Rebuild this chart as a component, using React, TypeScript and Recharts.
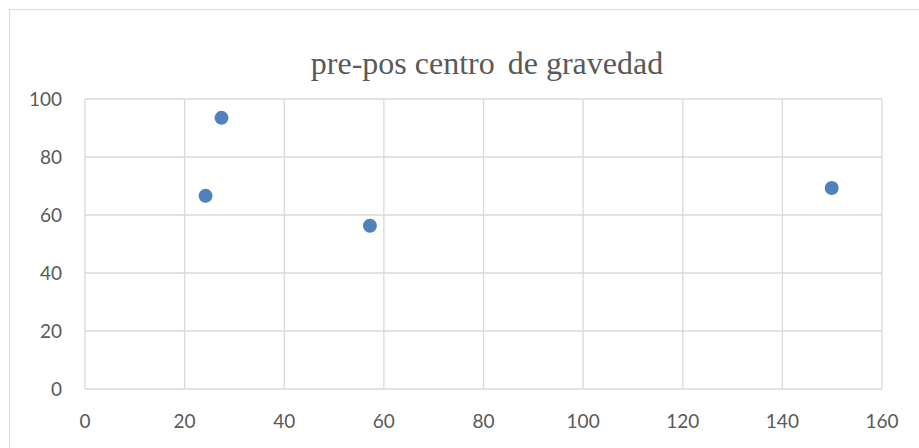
import React from "react";
import { ScatterChart, Scatter, XAxis, YAxis, CartesianGrid } from "recharts";

const TITLE_START = "pre-pos centro";
const TITLE_END = "de gravedad";

const xValues = [27.4, 24.2, 57.2, 149.9];
const yValues = [93.5, 66.6, 56.3, 69.3];

const xTicks = [0, 20, 40, 60, 80, 100, 120, 140, 160];
const yTicks = [0, 20, 40, 60, 80, 100];

const points = xValues.map((x, i) => ({ x, y: yValues[i] }));

const tickStyle = { fontSize: 19, fill: "#595959", fontFamily: "Lato, 'Noto Sans', sans-serif" };

const Dot = (props: any) => <circle cx={props.cx} cy={props.cy} r={7} fill="#4f81bd" />;

export default function App() {
  return (
    <div
      style={{
        position: "fixed",
        left: 0,
        top: 0,
        width: 919,
        height: 448,
        background: "#fff",
        overflow: "hidden",
      }}
    >
      {/* chart frame, runs off the right and bottom edges */}
      <div
        style={{
          position: "absolute",
          left: 9,
          top: 9,
          width: 940,
          height: 470,
          border: "1px solid #d9d9d9",
        }}
      />
      <svg width={919} height={448} style={{ position: "absolute", left: 0, top: 0 }}>
        <text
          x={487}
          y={74}
          textAnchor="middle"
          fontFamily="'Liberation Serif', 'Times New Roman', serif"
          fontSize={32}
          fill="#595959"
        >
          {TITLE_START + " "}
          <tspan dx={5}>{TITLE_END}</tspan>
        </text>
      </svg>
      <div style={{ position: "absolute", left: 0, top: 0 }}>
        <ScatterChart width={919} height={448} margin={{ top: 99, right: 37, bottom: 19, left: 0 }}>
          <CartesianGrid stroke="#d9d9d9" strokeWidth={1.3} />
          <XAxis
            type="number"
            dataKey="x"
            domain={[0, 160]}
            ticks={xTicks}
            interval={0}
            axisLine={false}
            tickLine={false}
            tickSize={0}
            tickMargin={26}
            height={40}
            tick={tickStyle}
          />
          <YAxis
            type="number"
            dataKey="y"
            domain={[0, 100]}
            ticks={yTicks}
            interval={0}
            axisLine={false}
            tickLine={false}
            tickSize={0}
            tickMargin={23}
            width={85}
            tick={tickStyle}
          />
          <Scatter data={points} fill="#4f81bd" shape={Dot} isAnimationActive={false} />
        </ScatterChart>
      </div>
    </div>
  );
}
